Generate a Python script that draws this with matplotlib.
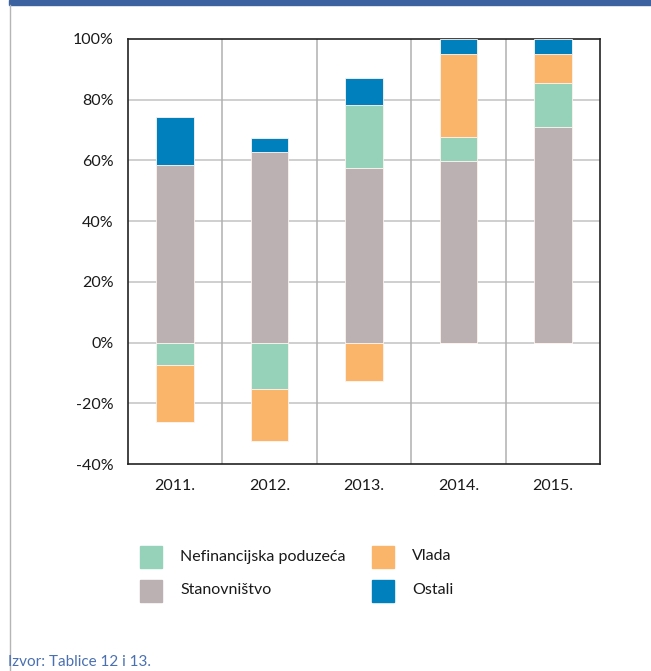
import matplotlib
matplotlib.use("Agg")
import matplotlib.pyplot as plt
from matplotlib.patches import Rectangle
from matplotlib.lines import Line2D
import numpy as np

plt.rcParams['font.family'] = ['Lato', 'DejaVu Sans']

years = ["2011.", "2012.", "2013.", "2014.", "2015."]
stanovnistvo = [58.5, 62.7, 57.4, 59.9, 70.9]
nefinancijska = [-7.5, -15.2, 21.0, 7.9, 14.7]
vlada = [-18.7, -17.3, -12.7, 27.3, 9.5]
ostali = [15.7, 4.7, 8.9, 4.9, 4.9]
yticks = [-40, -20, 0, 20, 40, 60, 80, 100]

c_nef = "#96d2b9"
c_sta = "#bbb0b2"
c_vla = "#fbb56b"
c_ost = "#0080bd"

W, H = 651, 671
fig = plt.figure(figsize=(W / 100, H / 100), dpi=100)
ax = fig.add_axes([128 / W, 1 - 464 / H, 472 / W, 425 / H])

x = np.arange(len(years))
bw = 0.4
pos = np.zeros(len(years))
neg = np.zeros(len(years))
for vals, col in [(stanovnistvo, c_sta), (nefinancijska, c_nef), (vlada, c_vla), (ostali, c_ost)]:
    v = np.array(vals, dtype=float)
    p = np.where(v > 0, v, 0)
    n = np.where(v < 0, v, 0)
    ax.bar(x, p, bw, bottom=pos, color=col, edgecolor="#fdf3ee", linewidth=0.6, zorder=3)
    ax.bar(x, n, bw, bottom=neg, color=col, edgecolor="#fdf3ee", linewidth=0.6, zorder=3)
    pos += p
    neg += n

ax.set_xlim(-0.5, len(years) - 0.5)
ax.set_ylim(-40, 100)
ax.set_yticks(yticks)
ax.set_yticklabels([f"{t}%" for t in yticks])
ax.set_xticks(x)
ax.set_xticklabels(years)
ax.tick_params(length=0, labelsize=11.5, colors="#1a1a1a")
ax.tick_params(axis="y", pad=10.5)
ax.tick_params(axis="x", pad=11)
for t in yticks[1:-1]:
    ax.axhline(t, color="#cccccc", lw=1.3, zorder=1)
for b in np.arange(0.5, len(years) - 0.5, 1):
    ax.axvline(b, color="#b0b0b0", lw=1.1, zorder=1)
for s in ax.spines.values():
    s.set_color("#222222")
    s.set_linewidth(1.2)

# Legend
items = [(140, 546, c_nef, "Nefinancijska poduzeća"), (372, 546, c_vla, "Vlada"),
         (140, 580, c_sta, "Stanovništvo"), (372, 580, c_ost, "Ostali")]
for px, py, col, lab in items:
    fig.patches.append(Rectangle((px / W, 1 - (py + 22) / H), 22 / W, 22 / H,
                                 transform=fig.transFigure, color=col))
    fig.text((px + 40) / W, 1 - (py + 10.5) / H, lab, fontsize=11.5,
             color="#1a1a1a", va="center", ha="left")

# Frame decorations
fig.patches.append(Rectangle((9 / W, 1 - 5 / H), (W - 9) / W, 5 / H,
                             transform=fig.transFigure, color="#3c62a0"))
fig.lines.append(Line2D([9.5 / W, 9.5 / W], [0, 1 - 5 / H], transform=fig.transFigure,
                        color="#b5b5b5", lw=1))
fig.text(8 / W, 1 - 662 / H, "Izvor: Tablice 12 i 13.", fontsize=11, color="#4a70b0",
         va="center", ha="left")

fig.savefig("out.png", dpi=100)
